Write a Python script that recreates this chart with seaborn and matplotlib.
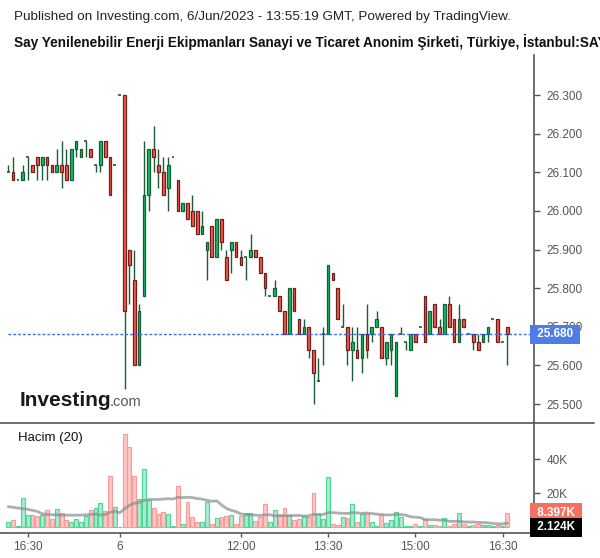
import numpy as np
import pandas as pd
import matplotlib
matplotlib.use("Agg")
import matplotlib.pyplot as plt
import matplotlib.transforms as mtransforms
from matplotlib.lines import Line2D
import seaborn as sns

# ---------------- data ----------------
opens = [26.10, 26.10, 26.08, 26.08, 26.14, 26.12, 26.14, 26.12, 26.14, 26.12,
         26.10, 26.12, 26.12, 26.08, 26.16, 26.14, 26.18, 26.16, 26.12, 26.12,
         26.18, 26.14, 26.12, 26.30, 26.30, 25.90, 25.82, 25.60, 25.78, 26.04,
         26.16, 26.12, 26.10, 26.06, 26.14, 26.08, 26.00, 26.02, 26.00, 26.00,
         25.94, 25.90, 25.96, 25.88, 25.98, 25.88, 25.90, 25.92, 25.88, 25.88,
         25.88, 25.90, 25.88, 25.84, 25.78, 25.78, 25.78, 25.74, 25.68, 25.80,
         25.72, 25.68, 25.70, 25.64, 25.56, 25.68, 25.68, 25.84, 25.80, 25.70,
         25.70, 25.64, 25.64, 25.62, 25.68, 25.68, 25.70, 25.70, 25.62, 25.64,
         25.52, 25.68, 25.66, 25.64, 25.68, 25.70, 25.78, 25.68, 25.76, 25.70,
         25.68, 25.76, 25.72, 25.66, 25.72, 25.68, 25.68, 25.66, 25.66, 25.68,
         25.72, 25.72, 25.66, 25.70]
closes = [26.10, 26.08, 26.08, 26.10, 26.14, 26.10, 26.12, 26.14, 26.12, 26.10,
          26.12, 26.10, 26.08, 26.16, 26.18, 26.16, 26.18, 26.14, 26.12, 26.18,
          26.14, 26.04, 26.12, 26.30, 25.74, 25.86, 25.60, 25.74, 26.04, 26.16,
          26.14, 26.10, 26.04, 26.12, 26.14, 26.00, 26.02, 25.98, 25.96, 25.94,
          25.96, 25.92, 25.88, 25.98, 25.92, 25.82, 25.92, 25.88, 25.86, 25.88,
          25.90, 25.88, 25.84, 25.80, 25.78, 25.80, 25.74, 25.68, 25.80, 25.74,
          25.68, 25.70, 25.64, 25.58, 25.56, 25.68, 25.86, 25.82, 25.72, 25.70,
          25.64, 25.66, 25.62, 25.68, 25.64, 25.70, 25.72, 25.62, 25.66, 25.68,
          25.66, 25.68, 25.66, 25.68, 25.66, 25.70, 25.66, 25.74, 25.70, 25.68,
          25.76, 25.70, 25.66, 25.72, 25.70, 25.68, 25.66, 25.64, 25.68, 25.70,
          25.72, 25.66, 25.66, 25.68]
highs = [26.12, 26.14, 26.08, 26.12, 26.14, 26.12, 26.14, 26.14, 26.14, 26.12,
         26.16, 26.18, 26.16, 26.16, 26.18, 26.16, 26.18, 26.16, 26.12, 26.18,
         26.18, 26.14, 26.12, 26.30, 26.30, 25.90, 25.90, 25.76, 26.18, 26.16,
         26.22, 26.16, 26.14, 26.14, 26.14, 26.08, 26.02, 26.02, 26.04, 26.00,
         26.00, 25.92, 25.96, 25.98, 25.98, 25.90, 25.92, 25.92, 25.90, 25.88,
         25.94, 25.90, 25.88, 25.84, 25.78, 25.82, 25.78, 25.74, 25.80, 25.80,
         25.72, 25.72, 25.70, 25.64, 25.62, 25.70, 25.86, 25.84, 25.80, 25.76,
         25.70, 25.70, 25.70, 25.68, 25.76, 25.70, 25.74, 25.70, 25.66, 25.68,
         25.66, 25.70, 25.66, 25.68, 25.68, 25.70, 25.78, 25.74, 25.76, 25.72,
         25.76, 25.78, 25.72, 25.76, 25.72, 25.68, 25.68, 25.68, 25.68, 25.70,
         25.72, 25.72, 25.66, 25.70]
lows = [26.10, 26.08, 26.08, 26.08, 26.08, 26.10, 26.08, 26.08, 26.08, 26.10,
        26.10, 26.06, 26.08, 26.08, 26.14, 26.14, 26.14, 26.14, 26.10, 26.10,
        26.14, 26.04, 26.12, 26.30, 25.54, 25.76, 25.60, 25.60, 25.78, 26.00,
        26.10, 26.06, 26.04, 26.00, 26.14, 26.00, 26.00, 25.98, 25.96, 25.94,
        25.94, 25.82, 25.88, 25.88, 25.90, 25.82, 25.84, 25.88, 25.86, 25.82,
        25.88, 25.88, 25.84, 25.78, 25.78, 25.78, 25.74, 25.68, 25.68, 25.74,
        25.68, 25.68, 25.62, 25.50, 25.56, 25.60, 25.68, 25.82, 25.72, 25.70,
        25.60, 25.56, 25.62, 25.58, 25.62, 25.66, 25.70, 25.62, 25.60, 25.60,
        25.52, 25.68, 25.64, 25.64, 25.66, 25.70, 25.66, 25.68, 25.70, 25.68,
        25.68, 25.70, 25.66, 25.66, 25.70, 25.68, 25.64, 25.64, 25.66, 25.66,
        25.72, 25.66, 25.66, 25.60]
volumes_k = [2.7, 4.0, 0.4, 17.0, 7.0, 7.0, 6.3, 7.0, 10.0, 4.5,
             10.4, 8.4, 4.0, 3.1, 5.0, 2.7, 6.5, 9.8, 11.0, 14.0,
             9.2, 30.0, 12.0, 0.3, 54.5, 47.0, 30.0, 16.5, 34.0, 16.0,
             11.0, 7.8, 9.0, 7.5, 0.4, 24.0, 2.0, 15.0, 6.0, 3.0,
             3.0, 15.0, 1.5, 5.5, 6.0, 6.7, 7.0, 1.5, 6.3, 8.4,
             8.4, 3.3, 6.0, 13.7, 3.0, 9.8, 7.3, 11.4, 7.3, 4.0,
             5.0, 6.7, 6.0, 20.0, 7.5, 4.5, 29.6, 1.6, 1.0, 6.0,
             5.5, 13.7, 3.0, 7.8, 8.0, 3.0, 0.6, 6.9, 2.2, 4.3,
             9.0, 5.7, 0.8, 0.8, 2.0, 0.4, 4.7, 1.0, 1.0, 0.4,
             5.5, 0.8, 1.6, 8.4, 2.0, 0.8, 1.2, 1.6, 1.4, 1.4,
             0.8, 1.0, 0.8, 8.397]
# MA(20) of volume for the first bars (earlier volumes are off-chart)
vol_ma_head = [12.0, 11.6, 11.2, 10.8, 10.4, 9.8, 9.2, 7.8, 7.4, 7.2,
               7.2, 7.0, 7.0, 7.0, 7.0, 7.0, 7.2, 7.4, 7.6]
x_tick_pos = [4, 23, 48, 66, 84, 102]
x_tick_labels = ["16:30", "6", "12:00", "13:30", "15:00", "16:30"]
price_ticks = [25.5, 25.6, 25.7, 25.8, 25.9, 26.0, 26.1, 26.2, 26.3]
vol_ticks = [20, 40]
last_price = 25.68
last_price_label = "25.680"
last_volume_label = "8.397K"
last_ma_label = "2.124K"

title_top = "Published on Investing.com, 6/Jun/2023 - 13:55:19 GMT, Powered by TradingView."
title_main = ("Say Yenilenebilir Enerji Ekipmanları Sanayi ve Ticaret Anonim Şirketi, "
              "Türkiye, İstanbul:SAYAS, 5")

# ---------------- style ----------------
sns.set_theme(style="white")
plt.rcParams["font.family"] = ["Liberation Sans", "DejaVu Sans"]

UP_FILL, UP_EDGE = "#0dc26b", "#1b5a37"
DN_FILL, DN_EDGE = "#f45a4e", "#6e1f1a"
WICK = "#1e5a38"
VUP_FILL, VUP_EDGE = "#a6ecd0", "#4fd598"
VDN_FILL, VDN_EDGE = "#ffc6c4", "#f49c98"
AXC = "#555555"

df = pd.DataFrame({"o": opens, "h": highs, "l": lows, "c": closes, "v": volumes_k})
df["x"] = np.arange(len(df))
ma = df["v"].rolling(20).mean()
ma.iloc[:len(vol_ma_head)] = vol_ma_head
df["ma"] = ma

W, H = 600, 558
fig = plt.figure(figsize=(W / 100, H / 100), dpi=100)
fig.patch.set_facecolor("white")


def fx(px):
    return px / W


def fy(py):
    return 1 - py / H


ax = fig.add_axes([0, fy(422), fx(534), (422 - 55) / H])
axv = fig.add_axes([0, fy(533), fx(534), (533 - 423) / H], sharex=ax)

xl = (-1.71, 108.5)

# ---- candles ----
up = df[df.c > df.o]
dn = df[df.c < df.o]
eq = df[df.c == df.o]
ax.vlines(df.x, df.l, df.h, color=WICK, lw=1.0, zorder=1)
ax.bar(up.x, up.c - up.o, bottom=up.o, width=0.55, color=UP_FILL,
       edgecolor=UP_EDGE, linewidth=0.9, zorder=2)
ax.bar(dn.x, dn.o - dn.c, bottom=dn.c, width=0.55, color=DN_FILL,
       edgecolor=DN_EDGE, linewidth=0.9, zorder=2)
ax.hlines(eq.c, eq.x - 0.3, eq.x + 0.3, color=WICK, lw=1.2, zorder=2)

ax.axhline(last_price, xmin=8 / 534, xmax=1, color="#3c6cf0", lw=1.0,
           ls=(0, (2, 1.5)), zorder=3)

ax.set_xlim(*xl)
ax.set_ylim(25.4534, 26.4036)
ax.yaxis.tick_right()
ax.set_yticks(price_ticks)
ax.set_yticklabels([f"{v:.3f}" for v in price_ticks])
ax.tick_params(axis="y", which="both", right=True, length=4, width=1, color=AXC,
               labelcolor=AXC, labelsize=8.5, pad=5)
ax.tick_params(axis="x", bottom=False, labelbottom=False)
for s in ["top", "left", "bottom"]:
    ax.spines[s].set_visible(False)
ax.spines["right"].set_color(AXC)
ax.spines["right"].set_linewidth(1.2)
ax.set_xlabel("")
ax.set_ylabel("")

trans = mtransforms.blended_transform_factory(ax.transAxes, ax.transData)
ax.text(1.0, last_price, " " + last_price_label + " ", transform=trans, ha="left",
        va="center", color="white", fontsize=8.5, fontweight="bold",
        bbox=dict(boxstyle="square,pad=0.3", fc="#4f7ce6", ec="none"), zorder=5,
        clip_on=False)

# ---- volume ----
vup = df[df.c >= df.o]
vdn = df[df.c < df.o]
axv.bar(vup.x, vup.v, width=0.8, color=VUP_FILL, edgecolor=VUP_EDGE, linewidth=0.8)
axv.bar(vdn.x, vdn.v, width=0.8, color=VDN_FILL, edgecolor=VDN_EDGE, linewidth=0.8)
sns.lineplot(data=df, x="x", y="ma", ax=axv, color="#8c8c8c", lw=2.0, alpha=0.7)
axv.set_xlim(*xl)
axv.set_ylim(-3.5, 61.2)
axv.yaxis.tick_right()
axv.set_yticks(vol_ticks)
axv.set_yticklabels([f"{v}K" for v in vol_ticks])
axv.set_xticks(x_tick_pos)
axv.set_xticklabels(x_tick_labels)
axv.tick_params(axis="y", right=True, length=4, width=1, color=AXC,
                labelcolor=AXC, labelsize=8.5, pad=5)
axv.tick_params(axis="x", bottom=True, length=3, width=1, color=AXC,
                labelcolor=AXC, labelsize=8.5, pad=3)
axv.spines["left"].set_visible(False)
axv.spines["top"].set_visible(False)
for s in ["right", "bottom"]:
    axv.spines[s].set_color(AXC)
    axv.spines[s].set_linewidth(1.2)
axv.set_xlabel("")
axv.set_ylabel("")

transv = mtransforms.blended_transform_factory(axv.transAxes, axv.transData)
axv.text(1.0, df.v.iloc[-1], " " + last_volume_label + " ", transform=transv,
         ha="left", va="center", color="white", fontsize=8.5, fontweight="bold",
         bbox=dict(boxstyle="square,pad=0.3", fc="#f56f62", ec="none"), clip_on=False)
axv.text(1.0, df.ma.iloc[-1] - 2.5, " " + last_ma_label + " ", transform=transv,
         ha="left", va="center", color="white", fontsize=8.5, fontweight="bold",
         bbox=dict(boxstyle="square,pad=0.3", fc="#000000", ec="none"), clip_on=False)
axv.text(18 / 534, 1 - (438 - 423) / 110, "Hacim (20)", transform=axv.transAxes,
         ha="left", va="center", fontsize=9.5, color="#111111")

# separator line between panes
fig.add_artist(Line2D([0, fx(594)], [fy(422.7), fy(422.7)], color=AXC, lw=1.2))

# ---- header texts ----
fig.text(fx(14), fy(17), title_top, ha="left", va="center", fontsize=9.7, color="#222222")
fig.text(fx(14), fy(42), title_main, ha="left", va="center", fontsize=9.8,
         fontweight="bold", color="#111111")

# ---- logo ----
fig.text(fx(20), fy(406), "Investing", ha="left", va="baseline", fontsize=15,
         fontweight="bold", color="#1a1a1a")
fig.text(fx(110), fy(406), ".com", ha="left", va="baseline", fontsize=10.5,
         color="#555555")

fig.savefig("out.png", dpi=100, facecolor="white")
